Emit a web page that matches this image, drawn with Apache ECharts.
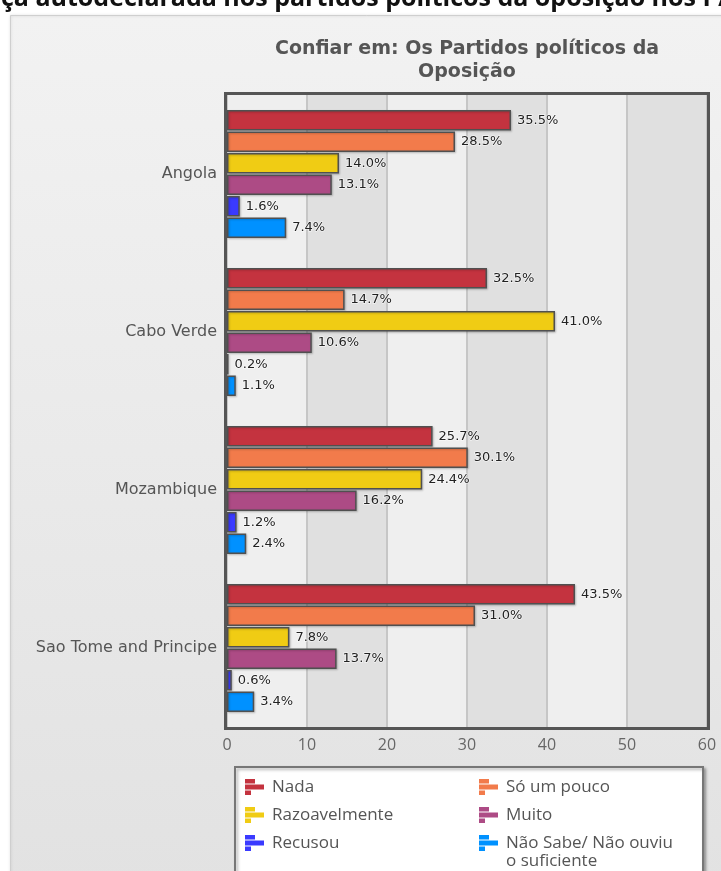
<!DOCTYPE html>
<html>
<head>
<meta charset="utf-8">
<style>
html,body{margin:0;padding:0;background:#fff;}
#chart{width:721px;height:871px;}
</style>
<script src="https://cdn.jsdelivr.net/npm/echarts@6/dist/echarts.min.js"></script>
</head>
<body>
<div id="chart"></div>
<script>
const categories = ['Angola', 'Cabo Verde', 'Mozambique', 'Sao Tome and Principe'];
const seriesNames = ['Nada', 'Só um pouco', 'Razoavelmente', 'Muito', 'Recusou', 'Não Sabe/ Não ouviu o suficiente'];
const nada = [35.5, 32.5, 25.7, 43.5];
const soUmPouco = [28.5, 14.7, 30.1, 31.0];
const razoavelmente = [14.0, 41.0, 24.4, 7.8];
const muito = [13.1, 10.6, 16.2, 13.7];
const recusou = [1.6, 0.2, 1.2, 0.6];
const naoSabe = [7.4, 1.1, 2.4, 3.4];
const xTicks = [0, 10, 20, 30, 40, 50, 60];
const titleText = 'Confiar em: Os Partidos políticos da\nOposição';
const pageHeading = 'ça autodeclarada nos partidos políticos da oposição nos PALOP';

const seriesValues = [nada, soUmPouco, razoavelmente, muito, recusou, naoSabe];
const colors = ['#c4333f', '#f27b4b', '#f0cc14', '#ad4b85', '#3a3aff', '#0091ff'];

const chart = echarts.init(document.getElementById('chart'));
const legendIcon = 'path://M0,0H10V4.5H0Z M0,5.5H19V10.5H0Z M0,11.5H6V16H0Z';

chart.setOption({
  animation: false,
  graphic: [
    {
      type: 'rect', z: -10, silent: true,
      shape: { x: 10.5, y: 15.5, width: 720, height: 870 },
      style: {
        fill: new echarts.graphic.LinearGradient(0, 0, 0, 1, [
          { offset: 0, color: '#f2f2f2' }, { offset: 1, color: '#e2e2e2' }
        ]),
        stroke: '#cfcfcf', lineWidth: 1,
        shadowColor: 'rgba(0,0,0,0.15)', shadowBlur: 3
      }
    },
    {
      type: 'rect', z: 5, silent: true,
      shape: { x: 225.5, y: 93.5, width: 483, height: 635 },
      style: { fill: 'none', stroke: '#555', lineWidth: 3 }
    },
    {
      type: 'text', z: 10, silent: true,
      style: {
        text: pageHeading, x: 1, y: 11, verticalAlign: 'bottom',
        font: 'bold 25px "Open Sans"', fill: '#111'
      }
    }
  ],
  title: {
    text: titleText,
    left: 462, top: 33, textAlign: 'center',
    textStyle: { fontFamily: '"DejaVu Sans"', fontWeight: 'bold', fontSize: 19, color: '#555', lineHeight: 23 }
  },
  grid: {
    left: 227, right: 14, top: 95, bottom: 144,
    show: false
  },
  xAxis: {
    type: 'value', min: 0, max: 60, interval: 10,
    axisLine: { show: false }, axisTick: { show: false },
    axisLabel: { margin: 10, color: '#666', fontSize: 16, fontFamily: '"Open Sans"',
      formatter: v => xTicks.includes(v) ? String(v) : '' },
    splitLine: { show: true, lineStyle: { color: '#c6c6c6', width: 2 } },
    splitArea: { show: true, areaStyle: { color: ['#efefef', '#e0e0e0'] } }
  },
  yAxis: {
    type: 'category', data: categories, inverse: true,
    axisLine: { show: false }, axisTick: { show: false },
    axisLabel: { margin: 10, color: '#555', fontSize: 16, fontFamily: '"DejaVu Sans"', padding: [5, 0, 0, 0] }
  },
  legend: {
    left: 235, top: 767, width: 460,
    orient: 'horizontal',
    padding: [11, 0, 40, 10],
    itemGap: 10, itemWidth: 19, itemHeight: 16,
    backgroundColor: '#fff', borderColor: '#777', borderWidth: 2,
    shadowColor: 'rgba(0,0,0,0.3)', shadowBlur: 3, shadowOffsetX: 2, shadowOffsetY: 2,
    icon: legendIcon,
    itemStyle: { borderWidth: 0 },
    textStyle: { color: '#555', fontSize: 17, fontFamily: '"Open Sans"', width: 197, lineHeight: 18, padding: [0, 0, 0, 3] },
    data: seriesNames,
    formatter: n => n === seriesNames[5] ? '\nNão Sabe/ Não ouviu\no suficiente' : n,
    selectedMode: false
  },
  series: seriesNames.map((name, i) => ({
    name: name,
    type: 'bar',
    data: seriesValues[i],
    barCategoryGap: '19%',
    barGap: '5%',
    itemStyle: {
      color: colors[i], borderColor: '#505050', borderWidth: 1.5,
      shadowColor: 'rgba(0,0,0,0.2)', shadowBlur: 2, shadowOffsetX: 1, shadowOffsetY: 1
    },
    label: {
      show: true, position: 'right', distance: 6,
      formatter: p => p.value.toFixed(1) + '%',
      color: '#222', fontSize: 13, fontFamily: '"DejaVu Sans"',
      textBorderColor: 'rgba(255,255,255,0.6)', textBorderWidth: 1.5
    }
  }))
});
</script>
</body>
</html>
